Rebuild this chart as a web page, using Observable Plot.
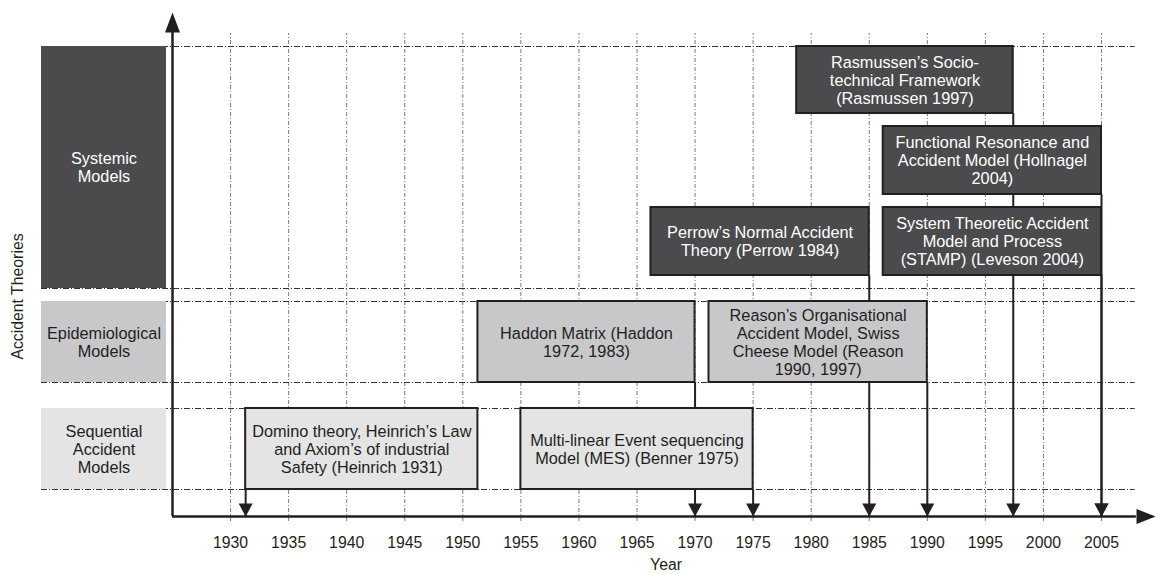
<!DOCTYPE html>
<html>
<head>
<meta charset="utf-8">
<script src="https://cdn.jsdelivr.net/npm/d3@7"></script>
<script src="https://cdn.jsdelivr.net/npm/@observablehq/plot@0.6"></script>
<style>
  body { margin: 0; background: #ffffff; }
  #chart svg { display: block; font-family: "Liberation Sans", Arial, sans-serif; }
</style>
</head>
<body>
<div id="chart"></div>
<script>
// ---------------- DATA ----------------
const tickYears = [1930, 1935, 1940, 1945, 1950, 1955, 1960, 1965, 1970, 1975, 1980, 1985, 1990, 1995, 2000, 2005];
const categories = ["Sequential", "Epidemiological", "Systemic"];
const categoryLabels = ["Sequential\nAccident\nModels", "Epidemiological\nModels", "Systemic\nModels"];

const modelLabels = [
  "Domino theory, Heinrich\u2019s Law\nand Axiom\u2019s of industrial\nSafety (Heinrich 1931)",
  "Multi-linear Event sequencing\nModel (MES) (Benner 1975)",
  "Haddon Matrix (Haddon\n1972, 1983)",
  "Reason\u2019s Organisational\nAccident Model, Swiss\nCheese Model (Reason\n1990, 1997)",
  "Perrow\u2019s Normal Accident\nTheory (Perrow 1984)",
  "System Theoretic Accident\nModel and Process\n(STAMP) (Leveson 2004)",
  "Functional Resonance and\nAccident Model (Hollnagel\n2004)",
  "Rasmussen\u2019s Socio-\ntechnical Framework\n(Rasmussen 1997)"
];
const modelCategory = ["Sequential", "Sequential", "Epidemiological", "Epidemiological", "Systemic", "Systemic", "Systemic", "Systemic"];
const modelTier = [0, 0, 0, 0, 0, 0, 1, 2];
const modelStart = [1931.3, 1955, 1951.3, 1971.2, 1966.2, 1986.2, 1986.2, 1978.75];
const modelEnd = [1951.3, 1975, 1970, 1990, 1985, 2005, 2005, 1997.4];
const modelArrowYear = [1931.3, 1975, 1970, 1990, 1985, 2005, 2005, 1997.4];

// ---------------- LAYOUT ----------------
const W = 1155, H = 574;
const xDomain = [1925, 2009.65];
const bandSpan = { Sequential: [27, 108], Epidemiological: [134, 215], Systemic: [228, 470] };
const tierSpan = [[241, 309], [322, 390], [403, 470]];
const fills = { Systemic: "#4b4b4d", Epidemiological: "#c8c8ca", Sequential: "#e4e4e5" };
const inks = { Systemic: "#ffffff", Epidemiological: "#231f20", Sequential: "#231f20" };
const leftX = [1913.72, 1924.48];
const gridRight = 2007.9;
const ink = "#231f20";
const boxFont = 16.3;
const axisFont = 15.8;

const cats = categories.map((c, i) => ({
  name: c, label: categoryLabels[i],
  y1: bandSpan[c][0], y2: bandSpan[c][1], fill: fills[c], ink: inks[c]
}));
const models = modelLabels.map((label, i) => {
  const c = modelCategory[i];
  const span = c === "Systemic" ? tierSpan[modelTier[i]] : bandSpan[c];
  return {
    label, start: modelStart[i], end: modelEnd[i], arrow: modelArrowYear[i],
    y1: span[0], y2: span[1], fill: fills[c], ink: inks[c]
  };
});
const edges = categories.flatMap(c => bandSpan[c]);

// custom arrow-head symbols (tip at origin)
const headDown = { draw(ctx) { ctx.moveTo(0, 0); ctx.lineTo(-7, -13); ctx.lineTo(7, -13); ctx.closePath(); } };
const headUp = { draw(ctx) { ctx.moveTo(0, 0); ctx.lineTo(-7.5, 20); ctx.lineTo(7.5, 20); ctx.closePath(); } };
const headRight = { draw(ctx) { ctx.moveTo(0, 0); ctx.lineTo(-19, -7.5); ctx.lineTo(-19, 7.5); ctx.closePath(); } };

const chart = Plot.plot({
  width: W,
  height: H,
  marginLeft: 172,
  marginRight: 0,
  marginTop: 12,
  marginBottom: 58,
  x: { domain: xDomain },
  y: { domain: [0, 504], axis: null },
  color: { type: "identity" },
  style: { fontFamily: "'Liberation Sans', Arial, sans-serif", color: ink, background: "#ffffff" },
  marks: [
    Plot.ruleX(tickYears, { x: d => d, y1: -5, y2: 483, stroke: "#7a7a7a", strokeWidth: 1, strokeDasharray: "4,2,1,2" }),
    Plot.ruleY(edges, { y: d => d, x1: leftX[0], x2: gridRight, stroke: "#333333", strokeWidth: 1, strokeDasharray: "6,2,1,2" }),
    Plot.rect(cats, { x1: leftX[0], x2: leftX[1], y1: "y1", y2: "y2", fill: "fill" }),
    Plot.text(cats, {
      x: (leftX[0] + leftX[1]) / 2, y: d => (d.y1 + d.y2) / 2, text: "label",
      fill: "ink", fontSize: boxFont, lineHeight: 1.11
    }),
    Plot.ruleX(models, { x: "arrow", y1: 0, y2: "y1", stroke: ink, strokeWidth: 2 }),
    Plot.rect(models, { x1: "start", x2: "end", y1: "y1", y2: "y2", fill: "fill", stroke: ink, strokeWidth: 2 }),
    Plot.text(models, {
      x: d => (d.start + d.end) / 2, y: d => (d.y1 + d.y2) / 2, text: "label",
      fill: "ink", fontSize: boxFont, lineHeight: 1.11
    }),
    Plot.ruleX([xDomain[0]], { x: d => d, y1: 0, y2: 490, stroke: ink, strokeWidth: 2.5 }),
    Plot.ruleY([0], { y: d => d, x1: xDomain[0], x2: 2008, stroke: ink, strokeWidth: 2.5 }),
    Plot.dot(models, { x: "arrow", y: 0, symbol: headDown, fill: ink, stroke: "none" }),
    Plot.dot([xDomain[0]], { x: d => d, y: 504, symbol: headUp, fill: ink, stroke: "none" }),
    Plot.dot([xDomain[1]], { x: d => d, y: 0, symbol: headRight, fill: ink, stroke: "none" }),
    Plot.axisX({ ticks: tickYears, tickSize: 0, tickPadding: 20, tickFormat: "d", label: null, fontSize: axisFont, fill: ink }),
    Plot.text(["Year"], { x: (tickYears[0] + tickYears[tickYears.length - 1]) / 2, y: -48, text: d => d, fontSize: axisFont, fill: ink }),
    Plot.text(["Accident Theories"], { x: 1911.65, y: 220, text: d => d, rotate: -90, fontSize: axisFont, fill: ink })
  ]
});
document.getElementById("chart").appendChild(chart);
</script>
</body>
</html>
